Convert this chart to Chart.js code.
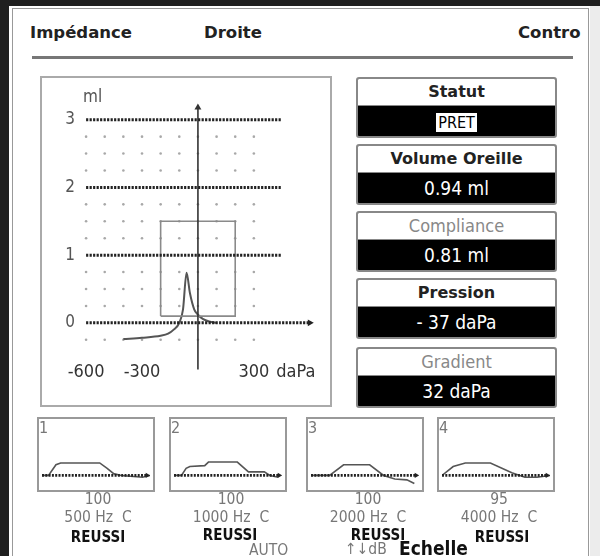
<!DOCTYPE html>
<html>
<head>
<meta charset="utf-8">
<script src="https://cdn.jsdelivr.net/npm/chart.js@4.4.1/dist/chart.umd.min.js"></script>
<style>
    body { margin: 0; width: 600px; height: 556px; overflow: hidden; background: #1f1f1f; position: relative; font-family: "DejaVu Sans", sans-serif; }
    .abs { position: absolute; }
    .narrow { font-family: "Liberation Sans Narrow", "DejaVu Sans Condensed", sans-serif; }
    .bold { font-family: "DejaVu Sans", sans-serif; font-weight: bold; }
    #panel { left: 9px; top: 6px; width: 581px; height: 560px; background: #fff; }
    #rightside { left: 590px; top: 6px; width: 10px; height: 560px; background: #ececec; }
    #frame { left: 12px; top: 8px; width: 575px; height: 560px; border: 1.5px solid #999; border-bottom: none; }
    .hdr { top: 23px; font-size: 16.5px; color: #222; }
    #hline { left: 32px; top: 56px; width: 541px; height: 3px; background: #777; }
    #mainbox { left: 40px; top: 76px; width: 288px; height: 327px; border: 2px solid #aaa; }
    .info { left: 356px; width: 197px; border: 2px solid #888; border-radius: 3px; background: #000; overflow: hidden; }
    .info .t { height: 26px; line-height: 26px; background: #fff; text-align: center; font-size: 16px; color: #222; border-bottom: 1px solid #888; }
    .info .t.light { font-family: "Liberation Sans Narrow", "DejaVu Sans Condensed", sans-serif; font-weight: normal; font-size: 18px; color: #888; }
    .info .v { height: 30px; line-height: 30px; text-align: center; color: #fff; font-size: 19px; }
    .pret { background: #fff; color: #000; padding: 0 2px; font-size: 16px; }
    .small { border: 2px solid #999; }
    .lab { text-align: center; width: 120px; white-space: pre; }
    .g { color: #777; font-size: 15.5px; }
    .r { font-family: "Liberation Sans Narrow", "DejaVu Sans Condensed", sans-serif; font-weight: bold; font-size: 15px; color: #111; }
</style>
</head>
<body>
<div class="abs" id="panel"></div>
<div class="abs" id="rightside"></div>
<div class="abs" id="frame"></div>
<div class="abs hdr bold" style="left:30px">Impédance</div>
<div class="abs hdr bold" style="left:204px">Droite</div>
<div class="abs hdr bold" style="left:518px">Contro</div>
<div class="abs" id="hline"></div>

<div class="abs" id="mainbox"></div>
<canvas class="abs" id="tympano" width="288" height="327" style="left:42px;top:78px"></canvas>
<div class="abs narrow" style="left:83px;top:86px;font-size:17px;color:#555">ml</div>

<div class="abs info" style="top:77px"><div class="t bold">Statut</div><div class="v narrow"><span class="pret">PRET</span></div></div>
<div class="abs info" style="top:144px"><div class="t bold">Volume Oreille</div><div class="v narrow" id="v_vol"></div></div>
<div class="abs info" style="top:211px"><div class="t light">Compliance</div><div class="v narrow" id="v_comp"></div></div>
<div class="abs info" style="top:278px"><div class="t bold">Pression</div><div class="v narrow" id="v_press"></div></div>
<div class="abs info" style="top:347px"><div class="t light">Gradient</div><div class="v narrow" id="v_grad"></div></div>

<div id="reflexes"></div>
<div class="abs narrow g" style="left:249px;top:541px">AUTO</div>
<div class="abs narrow g" style="left:345px;top:540px">↑↓dB</div>
<div class="abs r" style="left:399px;top:537px;font-size:19px">Echelle</div>

<script>
// tympanogram (daPa / ml)
const tympPressure = [-400, -300, -200, -160, -130, -100, -80, -61, -43, -20, 0, 26, 60, 100];
const tympVolume = [-0.24, -0.22, -0.19, -0.16, -0.10, 0.0, 0.2, 0.74, 0.44, 0.2, 0.12, 0.06, 0.02, 0.0];
const xTickValues = [-600, -300, 300, 525];
const xTickLabels = ['-600', '-300', '300', 'daPa'];
const yTickValues = [0, 1, 2, 3];
const gridDotX = [-600, -500, -400, -300, -200, -100, 0, 100, 200, 300];
const gridDotY = [-0.25, 0.25, 0.5, 0.75, 1.25, 1.5, 1.75, 2.25, 2.5, 2.75];
const heavyLevels = [1, 2, 3];
const normBox = { pressure: [-200, 200], volume: [0.1, 1.5] };

// results
const volumeOreille = '0.94 ml';
const compliance = '0.81 ml';
const pression = '- 37 daPa';
const gradient = '32 daPa';

// acoustic reflexes
const reflexNames = ['1', '2', '3', '4'];
const reflexFreq = ['500 Hz  C', '1000 Hz  C', '2000 Hz  C', '4000 Hz  C'];
const reflexLevel = ['100', '100', '100', '95'];
const reflexResult = ['REUSSI', 'REUSSI', 'REUSSI', 'REUSSI'];
const reflexT = [
    [0, 7, 15, 20, 62, 70, 77, 85, 108, 116],
    [0, 8, 13, 17, 33, 37, 68, 80, 97, 103, 112],
    [0, 20, 35, 63, 78, 90, 103, 111],
    [0, 12, 25, 52, 75, 89, 102, 116]
];
const reflexV = [
    [0, 0, 12, 14, 14, 8, 2, 0, -2, 0],
    [0, 0, 8, 10, 11, 15, 15, 4, 4, 0, -2],
    [0, 0, 12, 12, 0, -4, -5, -9],
    [0, 10, 14, 14, 3, -2, -2, 0]
];
const reflexBoxLeft = [38, 170, 307, 438];
const reflexLabelDx = [2, 3, 3, 3];
const reflexResultDx = [2, 2, 13, 6];

const narrowFont = '"Liberation Sans Narrow", "DejaVu Sans Condensed", sans-serif';

function toXY(xs, ys) {
    return xs.map((x, i) => ({ x: x, y: ys[i] }));
}

// grey grid dots drawn through the chart scales
const dotGrid = {
    id: 'dotGrid',
    beforeDatasetsDraw(chart) {
        const ctx = chart.ctx;
        const sx = chart.scales.x, sy = chart.scales.y;
        ctx.save();
        ctx.fillStyle = '#a8a8a8';
        gridDotX.forEach(px => {
            gridDotY.forEach(py => {
                ctx.beginPath();
                ctx.arc(sx.getPixelForValue(px), sy.getPixelForValue(py), 1.3, 0, Math.PI * 2);
                ctx.fill();
            });
        });
        ctx.restore();
    }
};

function createTympanogram() {
    let canvas = document.getElementById('tympano');
    let datasets = [];
    heavyLevels.forEach(l => {
        datasets.push({
            data: [{ x: -600, y: l }, { x: 450, y: l }],
            borderColor: '#222', borderWidth: 3, borderDash: [2.2, 1.3], pointRadius: 0
        });
    });
    // zero line with arrow
    datasets.push({
        data: [{ x: -600, y: 0 }, { x: 600, y: 0 }],
        borderColor: '#222', borderWidth: 3, borderDash: [2.2, 1.3],
        pointRadius: [0, 4], pointStyle: 'triangle', pointRotation: 90,
        pointBackgroundColor: '#222', pointBorderWidth: 0
    });
    // vertical axis with arrow
    datasets.push({
        data: [{ x: 0, y: -0.69 }, { x: 0, y: 3.18 }],
        borderColor: '#333', borderWidth: 1.6,
        pointRadius: [0, 4], pointStyle: 'triangle',
        pointBackgroundColor: '#333', pointBorderWidth: 0
    });
    // norm rectangle
    const p = normBox.pressure, v = normBox.volume;
    datasets.push({
        data: [{ x: p[0], y: v[0] }, { x: p[1], y: v[0] }, { x: p[1], y: v[1] }, { x: p[0], y: v[1] }, { x: p[0], y: v[0] }],
        borderColor: '#8a8a8a', borderWidth: 1.6, pointRadius: 0
    });
    // measured curve
    datasets.push({
        data: toXY(tympPressure, tympVolume),
        borderColor: '#555', borderWidth: 2, pointRadius: 0,
        cubicInterpolationMode: 'monotone'
    });

    const config = {
        type: 'line',
        data: { datasets: datasets },
        options: {
            responsive: false,
            animation: false,
            layout: { padding: 0 },
            plugins: { legend: { display: false }, tooltip: { enabled: false } },
            scales: {
                x: {
                    type: 'linear', min: -815, max: 687,
                    position: { y: -0.42 },
                    grid: { display: false }, border: { display: false },
                    afterBuildTicks: s => { s.ticks = xTickValues.map(v => ({ value: v })); },
                    ticks: {
                        autoSkip: false, maxRotation: 0, padding: 2, color: '#333',
                        font: { family: narrowFont, size: 18 },
                        callback: (val) => xTickLabels[xTickValues.indexOf(val)]
                    }
                },
                y: {
                    type: 'linear', min: -1.018, max: 3.421,
                    position: { x: -660 },
                    grid: { display: false }, border: { display: false },
                    afterBuildTicks: s => { s.ticks = yTickValues.map(v => ({ value: v })); },
                    ticks: { padding: 3, color: '#555', font: { family: narrowFont, size: 17 } }
                }
            }
        },
        plugins: [dotGrid]
    };
    new Chart(canvas, config);
}

function createReflex(i) {
    let holder = document.getElementById('reflexes');
    let left = reflexBoxLeft[i];
    let wrap = document.createElement('div');
    wrap.innerHTML =
        '<canvas class="abs" width="116" height="73" style="left:' + left + 'px;top:418px"></canvas>' +
        '<div class="abs small" style="left:' + (left - 1) + 'px;top:417px;width:114px;height:71px"></div>' +
        '<div class="abs narrow g" style="left:' + (left + 1) + 'px;top:418px;font-size:16px">' + reflexNames[i] + '</div>' +
        '<div class="abs narrow g lab" style="left:' + (left - 2 + reflexLabelDx[i]) + 'px;top:490px">' + reflexLevel[i] + '</div>' +
        '<div class="abs narrow g lab" style="left:' + (left - 2 + reflexLabelDx[i]) + 'px;top:508px">' + reflexFreq[i] + '</div>' +
        '<div class="abs r lab" style="left:' + (left - 2 + reflexResultDx[i]) + 'px;top:' + (i == 1 || i == 2 ? 526 : 528) + 'px">' + reflexResult[i] + '</div>';
    holder.appendChild(wrap);
    let canvas = wrap.querySelector('canvas');
    const config = {
        type: 'line',
        data: {
            datasets: [{
                data: [{ x: 0, y: 0 }, { x: 113, y: 0 }],
                borderColor: '#222', borderWidth: 2.6, borderDash: [2, 1.3],
                pointRadius: [0, 3], pointStyle: 'triangle', pointRotation: 90,
                pointBackgroundColor: '#222', pointBorderWidth: 0
            }, {
                data: toXY(reflexT[i], reflexV[i]),
                borderColor: '#555', borderWidth: 1.6, pointRadius: 0
            }]
        },
        options: {
            responsive: false,
            animation: false,
            layout: { padding: 0 },
            plugins: { legend: { display: false }, tooltip: { enabled: false } },
            scales: {
                x: { type: 'linear', min: 0, max: 116, display: false },
                y: { type: 'linear', min: -13, max: 60, display: false }
            }
        }
    };
    new Chart(canvas, config);
}

function init() {
    document.getElementById('v_vol').textContent = volumeOreille;
    document.getElementById('v_comp').textContent = compliance;
    document.getElementById('v_press').textContent = pression;
    document.getElementById('v_grad').textContent = gradient;
    createTympanogram();
    for (let i = 0; i < reflexNames.length; i++) createReflex(i);
}

init();
</script>
</body>
</html>
